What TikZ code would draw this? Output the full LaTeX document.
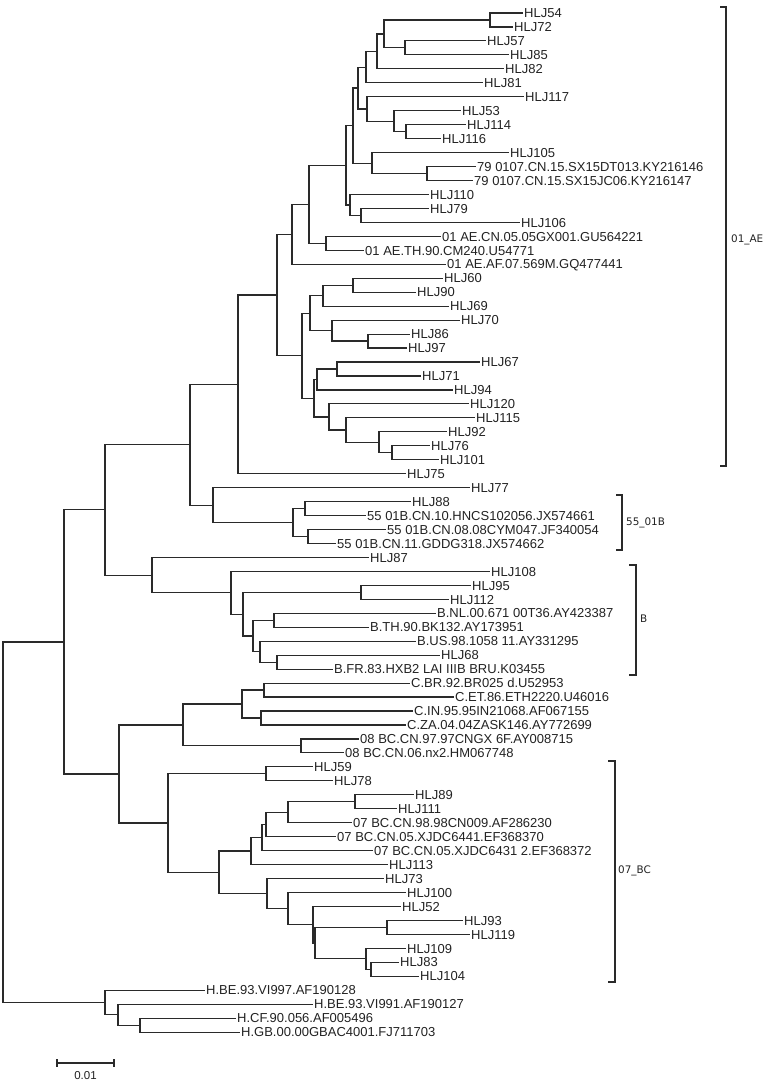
\documentclass[tikz,border=0pt]{standalone}
\usepackage{fontspec}
\usetikzlibrary{calc}
\newfontfamily\leaffont{Liberation Sans}
\newfontfamily\cladefont{DejaVu Sans}
\definecolor{brc}{HTML}{2A2A2A}
\definecolor{txc}{HTML}{222222}
\tikzset{
  branch/.style={draw=brc,line width=1.15pt,line join=miter,line cap=rect},
  leaf/.style={anchor=west,inner sep=2pt,text=txc,font=\leaffont\fontsize{13}{15}\selectfont,text height=9.4pt,text depth=0pt},
  clade/.style={anchor=west,inner sep=0pt,text=txc,font=\cladefont\fontsize{10.4}{12}\selectfont},
  bracket/.style={draw=brc,line width=1.15pt},
}
% internal node: name, x, child1, child2
\newcommand\inode[4]{%
  \path let \p1=(#3), \p2=(#4) in coordinate (#1) at (#2pt,{(\y1+\y2)/2});
  \draw[branch] (#3) -| (#1) |- (#4);
}
\begin{document}
\begin{tikzpicture}[x=1pt,y=-1pt]
\useasboundingbox (0,0) rectangle (767,1085);
\foreach \i/\x/\t in {
1/522/HLJ54,
2/512/HLJ72,
3/485/HLJ57,
4/508/HLJ85,
5/503/HLJ82,
6/482/HLJ81,
7/523/HLJ117,
8/460/HLJ53,
9/465/HLJ114,
10/440/HLJ116,
11/508/HLJ105,
12/475/79 0107.CN.15.SX15DT013.KY216146,
13/472/79 0107.CN.15.SX15JC06.KY216147,
14/428/HLJ110,
15/428/HLJ79,
16/519/HLJ106,
17/440/01 AE.CN.05.05GX001.GU564221,
18/363/01 AE.TH.90.CM240.U54771,
19/445/01 AE.AF.07.569M.GQ477441,
20/442/HLJ60,
21/415/HLJ90,
22/448/HLJ69,
23/459/HLJ70,
24/409/HLJ86,
25/406/HLJ97,
26/479/HLJ67,
27/420/HLJ71,
28/452/HLJ94,
29/468/HLJ120,
30/474/HLJ115,
31/446/HLJ92,
32/429/HLJ76,
33/438/HLJ101,
34/405/HLJ75,
35/469/HLJ77,
36/410/HLJ88,
37/365/55 01B.CN.10.HNCS102056.JX574661,
38/385/55 01B.CN.08.08CYM047.JF340054,
39/335/55 01B.CN.11.GDDG318.JX574662,
40/368/HLJ87,
41/489/HLJ108,
42/470/HLJ95,
43/448/HLJ112,
44/435/B.NL.00.671 00T36.AY423387,
45/368/B.TH.90.BK132.AY173951,
46/415/B.US.98.1058 11.AY331295,
47/439/HLJ68,
48/332/B.FR.83.HXB2 LAI IIIB BRU.K03455,
49/409/C.BR.92.BR025 d.U52953,
50/453/C.ET.86.ETH2220.U46016,
51/412/C.IN.95.95IN21068.AF067155,
52/405/C.ZA.04.04ZASK146.AY772699,
53/358/08 BC.CN.97.97CNGX 6F.AY008715,
54/343/08 BC.CN.06.nx2.HM067748,
55/312/HLJ59,
56/332/HLJ78,
57/413/HLJ89,
58/396/HLJ111,
59/351/07 BC.CN.98.98CN009.AF286230,
60/335/07 BC.CN.05.XJDC6441.EF368370,
61/372/07 BC.CN.05.XJDC6431 2.EF368372,
62/387/HLJ113,
63/383/HLJ73,
64/405/HLJ100,
65/400/HLJ52,
66/462/HLJ93,
67/469/HLJ119,
68/405/HLJ109,
69/398/HLJ83,
70/418/HLJ104,
71/204/H.BE.93.VI997.AF190128,
72/312/H.BE.93.VI991.AF190127,
73/235/H.CF.90.056.AF005496,
74/239/H.GB.00.00GBAC4001.FJ711703}{
  \coordinate (t\i) at (\x,{13.96*\i-0.96});
  \node[leaf] (n\i) at (t\i) {\t};
}
% 01_AE upper
\inode{a1}{490}{t1}{t2}
\inode{a2}{405}{t3}{t4}
\inode{a3}{384}{a1}{a2}
\inode{a4}{377}{a3}{t5}
\inode{a5}{366}{a4}{t6}
\inode{a6}{406}{t9}{t10}
\inode{a7}{394}{t8}{a6}
\inode{a8}{367}{t7}{a7}
\inode{a9}{358}{a5}{a8}
\inode{a10}{427}{t12}{t13}
\inode{a11}{372}{t11}{a10}
\inode{a12}{353}{a9}{a11}
\inode{a13}{361}{t15}{t16}
\inode{a14}{350}{t14}{a13}
\inode{a15}{346}{a12}{a14}
\inode{a16}{326}{t17}{t18}
\inode{a17}{309}{a15}{a16}
\inode{a18}{292}{a17}{t19}
% 01_AE lower
\inode{b1}{353}{t20}{t21}
\inode{b2}{323}{b1}{t22}
\inode{b3}{368}{t24}{t25}
\inode{b4}{332}{t23}{b3}
\inode{b5}{310}{b2}{b4}
\inode{b6}{337}{t26}{t27}
\inode{b7}{317}{b6}{t28}
\inode{b8}{392}{t32}{t33}
\inode{b9}{379}{t31}{b8}
\inode{b10}{346}{t30}{b9}
\inode{b11}{329}{t29}{b10}
\inode{b12}{314}{b7}{b11}
\inode{b13}{302}{b5}{b12}
\inode{b14}{277}{a18}{b13}
\inode{b15}{238}{b14}{t34}
% 55_01B
\inode{c1}{305}{t36}{t37}
\inode{c2}{308}{t38}{t39}
\inode{c3}{293}{c1}{c2}
\inode{c4}{213}{t35}{c3}
\inode{c5}{190}{b15}{c4}
% B
\inode{d1}{361}{t42}{t43}
\inode{d2}{274}{t44}{t45}
\inode{d3}{277}{t47}{t48}
\inode{d4}{260}{t46}{d3}
\inode{d5}{253}{d2}{d4}
\inode{d6}{243}{d1}{d5}
\inode{d7}{231}{t41}{d6}
\inode{d8}{152}{t40}{d7}
\inode{d9}{105}{c5}{d8}
% C and 08_BC
\inode{e1}{264}{t49}{t50}
\inode{e2}{261}{t51}{t52}
\inode{e3}{242}{e1}{e2}
\inode{e4}{301}{t53}{t54}
\inode{e5}{183}{e3}{e4}
% 07_BC
\inode{f1}{266}{t55}{t56}
\inode{f2}{355}{t57}{t58}
\inode{f3}{288}{f2}{t59}
\inode{f4}{266}{f3}{t60}
\inode{f5}{262}{f4}{t61}
\inode{f6}{251}{f5}{t62}
\inode{f7}{387}{t66}{t67}
\inode{f8}{371}{t69}{t70}
\inode{f9}{366}{t68}{f8}
\inode{f10}{315}{f7}{f9}
\inode{f11}{313}{t65}{f10}
\inode{f12}{288}{t64}{f11}
\inode{f13}{267}{t63}{f12}
\inode{f14}{219}{f6}{f13}
\inode{f15}{168}{f1}{f14}
\inode{f16}{119}{e5}{f15}
\inode{g1}{64}{d9}{f16}
% H outgroup
\inode{h1}{140}{t73}{t74}
\inode{h2}{118}{t72}{h1}
\inode{h3}{105}{t71}{h2}
\inode{root}{3}{g1}{h3}
% clade brackets
\draw[bracket] (720,7) -- (726,7) -- (726,466) -- (720,466);
\node[clade] (lAE) at (731,240) {01\_AE};
\draw[bracket] (616,495) -- (622,495) -- (622,550) -- (616,550);
\node[clade] (l55) at (626,523) {55\_01B};
\draw[bracket] (629,565) -- (636,565) -- (636,675) -- (629,675);
\node[clade] (lB) at (640,619) {B};
\draw[bracket] (608,761) -- (615,761) -- (615,982) -- (608,982);
\node[clade] (lBC) at (618,871) {07\_BC};
% scale bar
\coordinate (s1) at (57,1063);
\coordinate (s2) at (114,1063);
\draw[bracket] (s1) -- (s2);
\draw[bracket] ($(s1)+(0,-4)$) -- ($(s1)+(0,4)$);
\draw[bracket] ($(s2)+(0,-4)$) -- ($(s2)+(0,4)$);
\node[text=txc,font=\leaffont\fontsize{11.5}{13}\selectfont,inner sep=0pt] (sl) at (85.5,1076) {0.01};
\end{tikzpicture}
\end{document}
